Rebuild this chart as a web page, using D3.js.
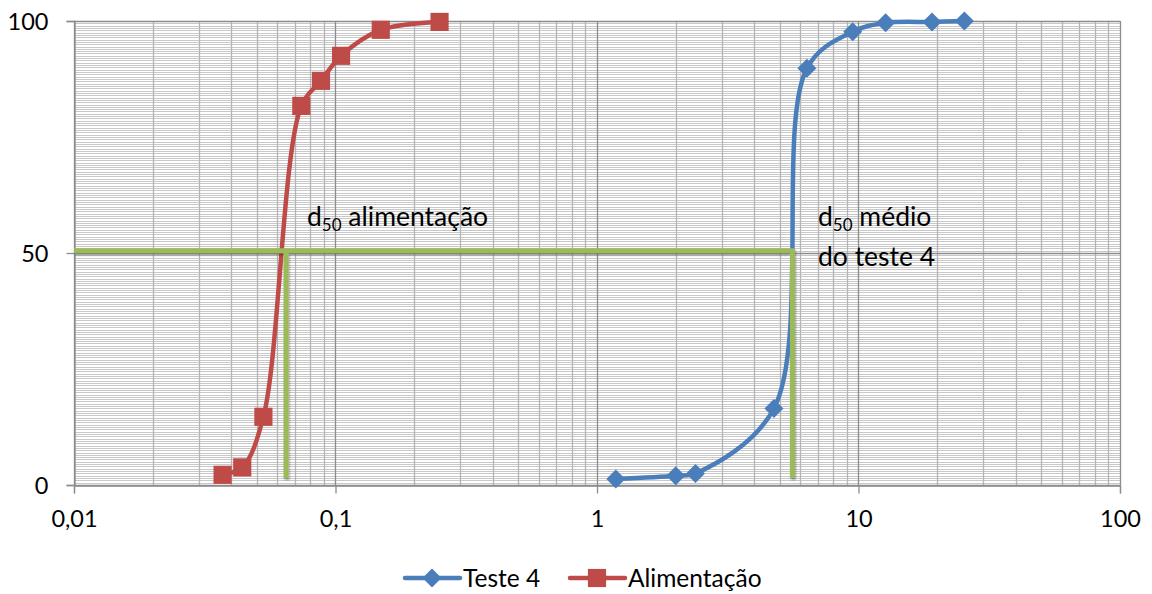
<!DOCTYPE html>
<html>
<head>
<meta charset="utf-8">
<script src="https://cdn.jsdelivr.net/npm/d3@7"></script>
<style>
  body { margin: 0; background: #fff; }
  svg text { font-family: Lato, "Open Sans", "Liberation Sans", sans-serif; fill: #000; }
</style>
</head>
<body>
<svg id="chart" width="1152" height="594"></svg>
<script>
// sieve opening (mm) vs cumulative passing (%)
var testeX = [1.18, 2.0, 2.38, 4.75, 6.35, 9.5, 12.7, 19.1, 25.4];
var testeY = [1.3, 2.0, 2.5, 16.5, 89.8, 97.7, 99.6, 99.8, 100];
var alimX = [0.037, 0.044, 0.053, 0.074, 0.088, 0.105, 0.149, 0.25];
var alimY = [2.2, 3.8, 14.7, 81.7, 87.1, 92.5, 98.1, 99.8];

var xTicks = [0.01, 0.1, 1, 10, 100];
var xTickLabels = ["0,01", "0,1", "1", "10", "100"];
var yTicks = [0, 50, 100];
var yMinorStep = 0.5;

// d50 guide lines
var d50Y = 50.5;
var d50Bottom = 1.5;
var d50Alim = 0.0647;
var d50Teste = 5.59;

var seriesNames = ["Teste 4", "Alimentação"];
var blue = "#4a7ebb", red = "#be4b48", green = "#9bbb59";

var svg = d3.select("#chart");
var x = d3.scaleLog().domain([0.01, 100]).range([74, 1120]);
var y = d3.scaleLinear().domain([0, 100]).range([485, 21]);

var defs = svg.append("defs");
var f = defs.append("filter").attr("id", "shadow")
  .attr("x", "-10%").attr("y", "-10%").attr("width", "120%").attr("height", "120%");
f.append("feDropShadow").attr("dx", 1).attr("dy", 2).attr("stdDeviation", 1.2)
  .attr("flood-color", "#000").attr("flood-opacity", 0.35);

var grid = svg.append("g");

// horizontal minor gridlines
var yMinor = d3.range(yMinorStep, 100, yMinorStep).filter(function(v){ return yTicks.indexOf(v) < 0; });
grid.selectAll("line.hmin").data(yMinor).enter().append("line")
  .attr("x1", x(0.01)).attr("x2", x(100))
  .attr("y1", function(d){ return Math.round(y(d)) + 0.5; })
  .attr("y2", function(d){ return Math.round(y(d)) + 0.5; })
  .attr("stroke", "#c8c8c8").attr("stroke-width", 1);

// vertical minor gridlines
var xMinor = [];
xTicks.slice(0, -1).forEach(function(d){
  for (var k = 2; k <= 9; k++) xMinor.push(d * k);
});
grid.selectAll("line.vmin").data(xMinor).enter().append("line")
  .attr("x1", function(d){ return Math.round(x(d)) + 0.5; })
  .attr("x2", function(d){ return Math.round(x(d)) + 0.5; })
  .attr("y1", y(0)).attr("y2", y(100))
  .attr("stroke", "#b4b4b4").attr("stroke-width", 1.3);

// major gridlines
grid.selectAll("line.vmaj").data(xTicks).enter().append("line")
  .attr("x1", function(d){ return Math.round(x(d)) + 0.5; })
  .attr("x2", function(d){ return Math.round(x(d)) + 0.5; })
  .attr("y1", y(0)).attr("y2", y(100))
  .attr("stroke", "#8c8c8c").attr("stroke-width", 1.3);
grid.selectAll("line.hmaj").data(yTicks).enter().append("line")
  .attr("x1", x(0.01)).attr("x2", x(100))
  .attr("y1", function(d){ return Math.round(y(d)) + 0.5; })
  .attr("y2", function(d){ return Math.round(y(d)) + 0.5; })
  .attr("stroke", "#8c8c8c").attr("stroke-width", 1.3);

// axes
var xAxis = d3.axisBottom(x).tickValues(xTicks).tickSize(8).tickPadding(17)
  .tickFormat(function(d, i){ return xTickLabels[i]; });
var gx = svg.append("g").attr("transform", "translate(0," + (Math.round(y(0)) + 0.5) + ")").call(xAxis);
var yAxis = d3.axisLeft(y).tickValues(yTicks).tickSize(8).tickPadding(18);
var gy = svg.append("g").attr("transform", "translate(" + (Math.round(x(0.01)) + 0.5) + ",0)").call(yAxis);
[gx, gy].forEach(function(g){
  g.select(".domain").attr("stroke", "#8c8c8c").attr("stroke-width", 1.3);
  g.selectAll(".tick line").attr("stroke", "#8c8c8c").attr("stroke-width", 1.3);
  g.selectAll(".tick text").attr("font-size", 23.5).attr("font-family", "Lato, 'Open Sans', sans-serif");
});
gy.selectAll(".tick text").attr("dy", "0.35em");

// series
var line = d3.line()
  .x(function(d){ return x(d[0]); })
  .y(function(d){ return y(d[1]); })
  .curve(d3.curveCatmullRom.alpha(0.5));

var teste = d3.zip(testeX, testeY);
var alim = d3.zip(alimX, alimY);

svg.append("path").datum(teste).attr("d", line)
  .attr("fill", "none").attr("stroke", blue).attr("stroke-width", 4.5).attr("stroke-linejoin", "round");
svg.append("path").datum(alim).attr("d", line)
  .attr("fill", "none").attr("stroke", red).attr("stroke-width", 4.5).attr("stroke-linejoin", "round");

var diamond = d3.symbol().type(d3.symbolDiamond2).size(230);
var square = d3.symbol().type(d3.symbolSquare).size(330);

svg.selectAll("path.tm").data(teste).enter().append("path")
  .attr("d", diamond)
  .attr("transform", function(d){ return "translate(" + x(d[0]) + "," + y(d[1]) + ")"; })
  .attr("fill", blue);
svg.selectAll("path.am").data(alim).enter().append("path")
  .attr("d", square)
  .attr("transform", function(d){ return "translate(" + x(d[0]) + "," + y(d[1]) + ")"; })
  .attr("fill", red);

// d50 lines
var gl = svg.append("g").attr("filter", "url(#shadow)")
  .attr("stroke", green).attr("stroke-width", 5).attr("fill", "none");
gl.append("path").attr("d", d3.line()([
  [x(0.01), y(d50Y)], [x(d50Teste), y(d50Y)], [x(d50Teste), y(d50Bottom)]
]));
gl.append("line")
  .attr("x1", x(d50Alim)).attr("x2", x(d50Alim))
  .attr("y1", y(d50Y)).attr("y2", y(d50Bottom));

// annotations
function d50Label(px, py, rest) {
  var t = svg.append("text").attr("x", px).attr("y", py).attr("font-size", 26.5);
  t.append("tspan").text("d");
  t.append("tspan").attr("font-size", 17).attr("dy", 5).text("50");
  t.append("tspan").attr("dy", -5).text(" " + rest);
  return t;
}
d50Label(307, 226, "alimentação");
d50Label(818, 226, "médio");
svg.append("text").attr("x", 818).attr("y", 266).attr("font-size", 26.5).text("do teste 4");

// legend
var legend = [
  { name: seriesNames[0], color: blue, sym: diamond, x0: 405 },
  { name: seriesNames[1], color: red, sym: square, x0: 570 }
];
var lg = svg.append("g").attr("transform", "translate(0,578)");
legend.forEach(function(d){
  lg.append("line").attr("x1", d.x0).attr("x2", d.x0 + 55).attr("y1", 0).attr("y2", 0)
    .attr("stroke", d.color).attr("stroke-width", 4.5).attr("stroke-linecap", "round");
  lg.append("path").attr("d", d.sym).attr("transform", "translate(" + (d.x0 + 27) + ",0)").attr("fill", d.color);
  lg.append("text").attr("x", d.x0 + 58).attr("y", 0).attr("dy", "0.35em").attr("font-size", 24.5).text(d.name);
});
</script>
</body>
</html>
